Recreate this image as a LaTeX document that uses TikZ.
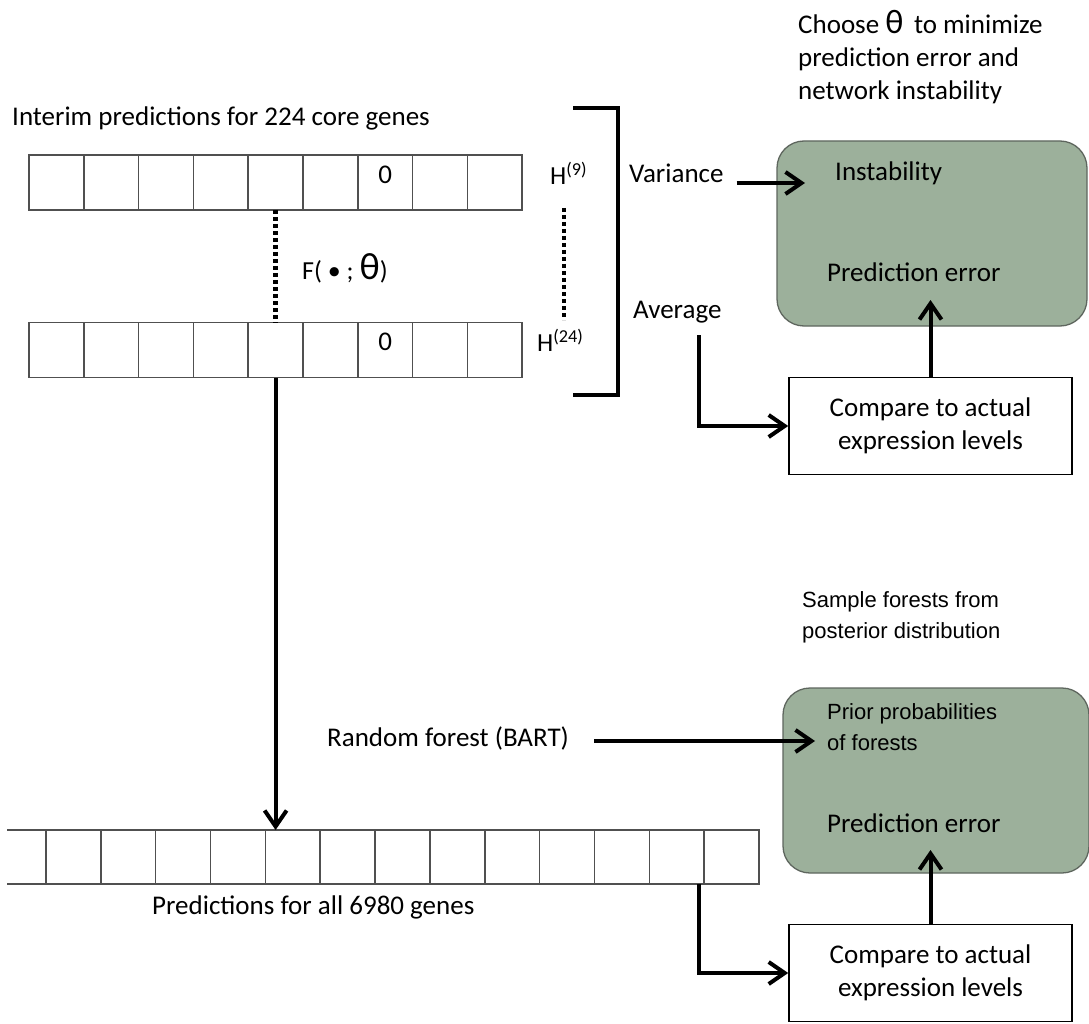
\documentclass[tikz,border=0pt]{standalone}
\usepackage{fontspec}
\setmainfont{Carlito}
\newfontfamily\arialfont{Liberation Sans}
\usetikzlibrary{positioning,arrows.meta,calc}
\definecolor{sage}{HTML}{9CB09B}
\definecolor{sageedge}{HTML}{5E665E}
\definecolor{cellgray}{HTML}{505050}

\begin{document}
\begin{tikzpicture}[x=1pt,y=-1pt,
      txt/.style={font=\fontsize{27}{33}\selectfont,inner sep=0pt,anchor=west},
      ftxt/.style={font=\arialfont\fontsize{22}{31}\selectfont,inner sep=0pt,anchor=west,align=left},
      cell/.style={draw=cellgray,line width=1.5pt,minimum width=54.8pt,minimum height=55pt,inner sep=0pt,outer sep=0pt},
      plate/.style={draw=sageedge,fill=sage,line width=1.3pt,rounded corners=27pt,minimum width=310pt,minimum height=185pt},
      cmpbox/.style={draw,line width=1.6pt,minimum width=283pt,minimum height=97pt,align=center,font=\fontsize{27}{33}\selectfont},
      flow/.style={line width=4pt,-{Straight Barb[length=16pt,width=22pt,line width=4pt]}},
      dots/.style={line width=4.5pt,dash pattern=on 4pt off 3pt}]

    \useasboundingbox (0,0) rectangle (1089,1024);

    % interim rows
    \node[txt] (interim) at (12,118) {Interim predictions for 224 core genes};
    \foreach \i in {1,...,9} {
      \node[cell] (h9c\i) at ({29+54.8*(\i-0.5)},182.5) {};
      \node[cell] (h24c\i) at ({29+54.8*(\i-0.5)},350) {};
    }
    \node[txt,anchor=center] at ([yshift=8pt]h9c7) {0};
    \node[txt,anchor=center] at ([yshift=8pt]h24c7) {0};
    \node[txt,font=\fontsize{26}{30}\selectfont] (h9lbl) at (550,173) {H\textsuperscript{(9)}};
    \node[txt,font=\fontsize{26}{30}\selectfont] (h24lbl) at (537,340) {H\textsuperscript{(24)}};
    \node[txt,font=\fontsize{26}{30}\selectfont] (ftheta) at (302,268) {F( • ; {\fontsize{38}{40}\selectfont θ})};
    \draw[dots] (h9c5.south) -- (h24c5.north);
    \draw[dots] (h9c9.south east) ++(42,-2) -- ++(0,112);

    % bracket
    \draw[line width=4pt] (573,108) -| (618,395) -- (573,395);

    % theta box
    \node[txt,align=left] (choose) at (798,57)
      {Choose {\fontsize{34}{33}\selectfont θ}\, to minimize\\prediction error and\\network instability};
    \node[plate] (thetabox) at (932,233.5) {};
    \node[txt] (inst) at (835,173) {Instability};
    \node[txt] (perr1) at (827,272) {Prediction error};
    \node[cmpbox] (cmp1) at (930.5,426) {Compare to actual\\expression levels};
    \node[txt] (var) at (629,173) {Variance};
    \node[txt] (avg) at (633,312) {Average};
    \coordinate (varin) at (805,183);
    \coordinate (avgout) at (699,335);
    \coordinate (perr1in) at (933,300);

    \draw[flow] (var.east) ++(13,10) -- (varin);
    \draw[flow] (avgout) |- (cmp1.west);
    \draw[flow] (cmp1.north) -- (cmp1.north |- perr1in);

    % all genes row
    \foreach \i in {1,...,13}
      \node[cell,minimum height=54pt] (pc\i) at ({46+54.85*(\i-0.5)},857) {};
    \draw[cellgray,line width=1.5pt] (pc1.north west) -- ++(-39,0) (pc1.south west) -- ++(-39,0);
    \node[txt] (allpred) at (152,907) {Predictions for all 6980 genes};
    \draw[flow] (h24c5.south) -- (h24c5.south |- pc5.north);

    % forest box
    \node[ftxt] (sample) at (802,617) {Sample forests from\\posterior distribution};
    \node[plate,minimum width=306pt] (forestbox) at (936,780.5) {};
    \node[ftxt] (prior) at (827,727) {Prior probabilities\\of forests};
    \node[txt] (perr2) at (827,823) {Prediction error};
    \node[cmpbox] (cmp2) at (930.5,973) {Compare to actual\\expression levels};
    \node[txt] (rf) at (327,738) {Random forest (BART)};
    \coordinate (priorin) at (815,741);
    \coordinate (perr2in) at (933,850);

    \draw[flow] (rf.east) ++(25,3) -- (priorin);
    \draw[flow] (pc13.south west) ++(-5,0) |- (cmp2.west);
    \draw[flow] (cmp2.north) -- (cmp2.north |- perr2in);
  \end{tikzpicture}
\end{document}
